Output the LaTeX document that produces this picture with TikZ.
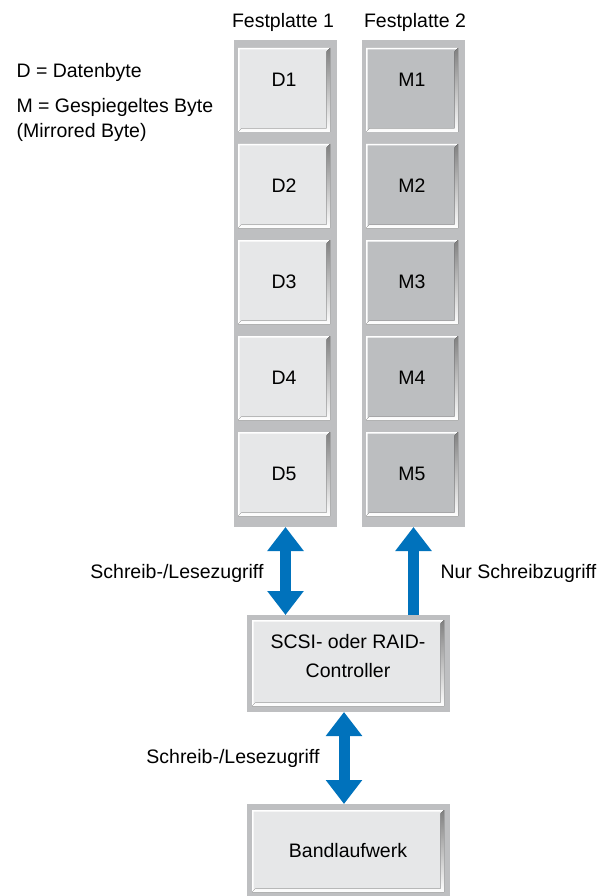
\documentclass[tikz,border=0pt]{standalone}
\usepackage{fontspec}
\setmainfont{Liberation Sans}
\usetikzlibrary{arrows.meta,positioning,calc}

\definecolor{boxlight}{HTML}{E6E7E8}
\definecolor{boxdark}{HTML}{BCBEC0}
\definecolor{framegray}{HTML}{BEBFC1}
\definecolor{shade}{HTML}{231F20}
\definecolor{arrowblue}{HTML}{0072BC}

% white edge top/left, dark edge right/bottom
\newcommand{\bevel}[1]{%
  \fill[white] (#1.south west) -- (#1.north west) -- (#1.north east)
    -- ($(#1.north east)+(-1.5,1.5)$) -- ($(#1.north west)+(1.5,1.5)$) -- ($(#1.south west)+(1.5,-1.5)$) -- cycle;
  \fill[shade] (#1.north east) -- (#1.south east) -- (#1.south west)
    -- ($(#1.south west)+(3.5,-3.5)$) -- ($(#1.south east)+(-3.5,-3.5)$) -- ($(#1.north east)+(-3.5,3.5)$) -- cycle;
}

\begin{document}
\begin{tikzpicture}[x=1pt, y=-1pt,
    every node/.style={font=\fontsize{19.5pt}{29pt}\selectfont},
    frame/.style={fill=framegray, inner sep=0pt, outer sep=0pt},
    disk/.style={frame, minimum width=103pt, minimum height=487pt},
    unitframe/.style={frame, minimum width=203pt},
    databox/.style={fill=boxlight, inner sep=0pt, outer sep=0pt, minimum width=92pt, minimum height=84pt},
    mirrorbox/.style={databox, fill=boxdark},
    unitbox/.style={databox, minimum width=192pt, align=center},
    toprow/.style={text depth=20pt},
    access/.style={draw=arrowblue, line width=11pt},
    >={Triangle[length=24pt,width=35pt]}]
    \useasboundingbox (0,0) rectangle (599,896);

    % Legend
    \node[anchor=base west] (legd) at (13,78) {D = Datenbyte};
    \node[anchor=base west] (legm) at (13,113) {M = Gespiegeltes Byte};
    \node[anchor=base west] (legm2) at (13,138) {(Mirrored Byte)};

    % Disks
    \node[anchor=base] (title1) at (283,28) {Festplatte 1};
    \node[anchor=base] (title2) at (415,28) {Festplatte 2};
    \node[disk] (fp1) at (285.5,283.5) {};
    \node[disk] (fp2) at (413.5,283.5) {};

    \node[databox, toprow] (D1) at (284,90) {D1};
    \node[databox] (D2) at (284,186) {D2};
    \node[databox] (D3) at (284,282) {D3};
    \node[databox] (D4) at (284,378) {D4};
    \node[databox] (D5) at (284,474) {D5};

    \node[mirrorbox, toprow] (M1) at (412,90) {M1};
    \node[mirrorbox] (M2) at (412,186) {M2};
    \node[mirrorbox] (M3) at (412,282) {M3};
    \node[mirrorbox] (M4) at (412,378) {M4};
    \node[mirrorbox] (M5) at (412,474) {M5};

    \bevel{D1} \bevel{D2} \bevel{D3} \bevel{D4} \bevel{D5}
    \bevel{M1} \bevel{M2} \bevel{M3} \bevel{M4} \bevel{M5}

    % Controller and tape drive
    \node[unitframe, minimum height=97pt] (ctrlframe) at (348.5,663.5) {};
    \node[unitbox, minimum height=86pt, text depth=15pt] (ctrl) at (348,663) {SCSI- oder RAID-\\Controller};
    \node[unitframe, minimum height=92pt] (tapeframe) at (348.5,850) {};
    \node[unitbox, minimum height=82pt] (tape) at (348,851) {Bandlaufwerk};
    \bevel{ctrl} \bevel{tape}

    % Access arrows
    \draw[access, <->] (fp1.south) -- (fp1.south |- ctrlframe.north);
    \draw[access, ->] (fp2.south |- ctrlframe.north) -- (fp2.south);
    \draw[access, <->] ([xshift=-4.5pt]ctrlframe.south) -- ([xshift=-4.5pt]tapeframe.north);

    % Labels
    \node[anchor=base east] (rw1) at (267,578) {Schreib-/Lesezugriff};
    \node[anchor=base west] (wo) at (437,578) {Nur Schreibzugriff};
    \node[anchor=base east] (rw2) at (323,763) {Schreib-/Lesezugriff};
\end{tikzpicture}
\end{document}
